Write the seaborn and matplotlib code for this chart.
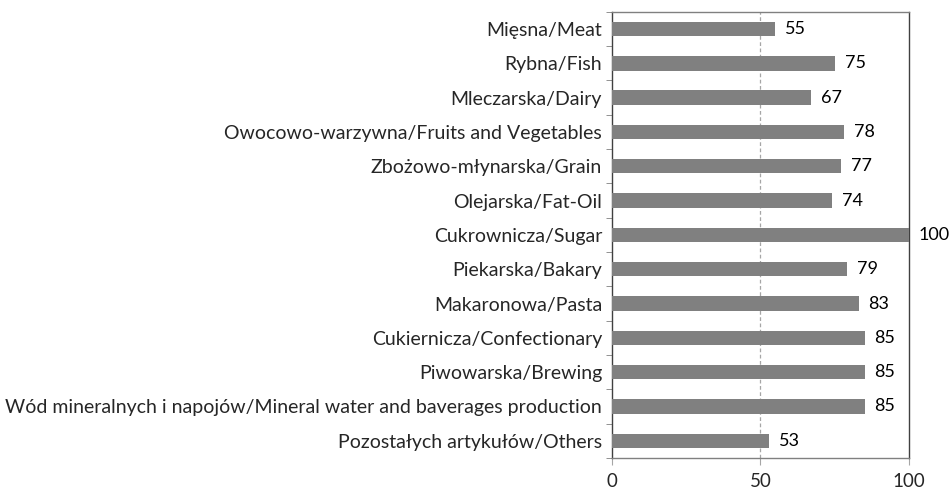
import matplotlib
matplotlib.use("Agg")
import matplotlib.pyplot as plt
import seaborn as sns
import pandas as pd

kategorie = [
    "Mięsna/Meat",
    "Rybna/Fish",
    "Mleczarska/Dairy",
    "Owocowo-warzywna/Fruits and Vegetables",
    "Zbożowo-młynarska/Grain",
    "Olejarska/Fat-Oil",
    "Cukrownicza/Sugar",
    "Piekarska/Bakary",
    "Makaronowa/Pasta",
    "Cukiernicza/Confectionary",
    "Piwowarska/Brewing",
    "Wód mineralnych i napojów/Mineral water and baverages production",
    "Pozostałych artykułów/Others",
]
wartosci = [55, 75, 67, 78, 77, 74, 100, 79, 83, 85, 85, 85, 53]
ticks_x = [0, 50, 100]

tabela = pd.DataFrame({"kategoria": kategorie, "wartosc": wartosci})

sns.set_style("white")
plt.rcParams["font.family"] = ["Lato", "DejaVu Sans"]

fig, ax = plt.subplots(figsize=(9.53, 4.94), dpi=100)
fig.subplots_adjust(left=0.642, right=0.954, top=0.976, bottom=0.073)

sns.barplot(data=tabela, x="wartosc", y="kategoria", color="#808080",
            saturation=1, width=0.42, linewidth=0, ax=ax, zorder=3)

# linia siatki tylko na 50
ax.axvline(50, color="#a6a6a6", linestyle=(0, (3, 2)), linewidth=0.9, zorder=1)

for i, v in enumerate(wartosci):
    ax.text(v + 3.3, i, str(v), va="center", ha="left", fontsize=13,
            color="black", zorder=4)

ax.set_xlim(0, 100)
ax.set_ylim(len(kategorie) - 0.5, -0.5)
ax.set_xticks(ticks_x)
ax.set_xticklabels([str(t) for t in ticks_x], fontsize=13.5)
ax.set_xlabel("")
ax.set_ylabel("")
ax.tick_params(axis="y", labelsize=14, length=0, pad=7)
ax.tick_params(axis="x", length=5, color="#a6a6a6", bottom=True, pad=6)
ax.set_yticks([i - 0.5 for i in range(len(kategorie) + 1)], minor=True)
ax.tick_params(axis="y", which="minor", length=4, color="#808080", left=True)

for side in ["left", "right"]:
    ax.spines[side].set_color("#404040")
    ax.spines[side].set_linewidth(1.0)
for side in ["top", "bottom"]:
    ax.spines[side].set_color("#808080")
    ax.spines[side].set_linewidth(1.0)

plt.savefig("out.png", dpi=100)
